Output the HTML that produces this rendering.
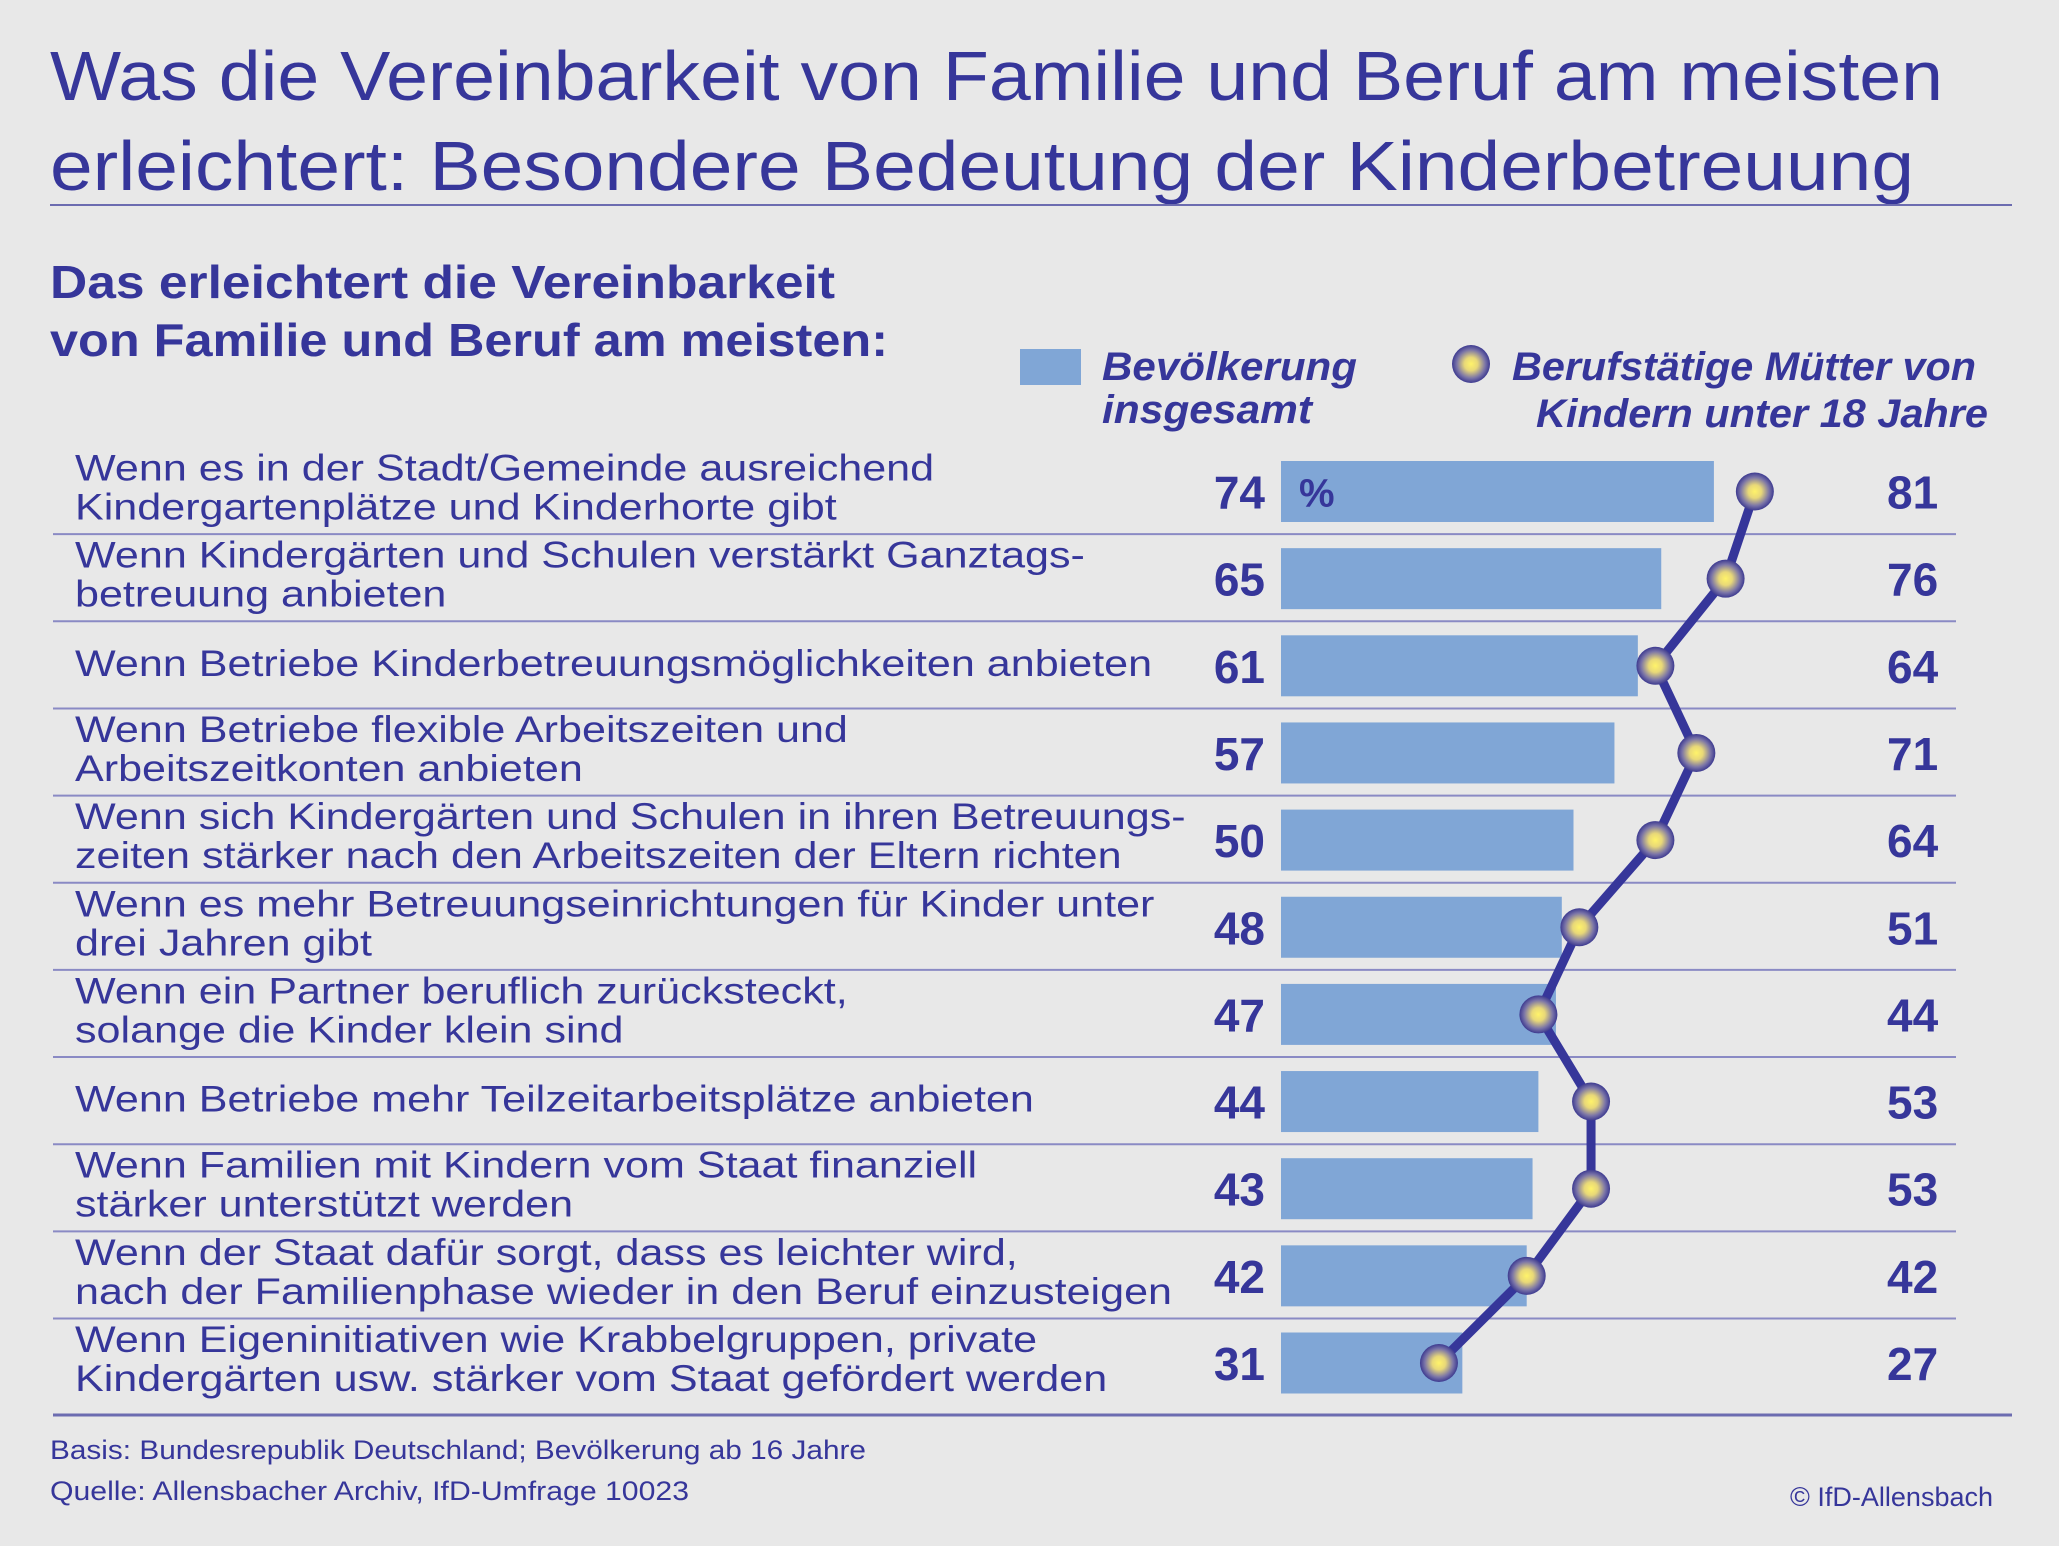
<!DOCTYPE html>
<html><head><meta charset="utf-8"><style>
html,body{margin:0;padding:0;background:#e8e8e8}
svg{display:block}
text{font-family:"Liberation Sans",sans-serif;fill:#36369a}
</style></head><body>
<svg id="chart" width="2059" height="1546" viewBox="0 0 2059 1546" xmlns="http://www.w3.org/2000/svg">
<defs>
<radialGradient id="dotg" cx="50%" cy="50%" r="50%">
<stop offset="0%" stop-color="#fff36a"/>
<stop offset="35%" stop-color="#e8d878"/>
<stop offset="75%" stop-color="#7a74a8"/>
<stop offset="100%" stop-color="#3d3a90"/>
</radialGradient>
</defs>
<rect x="0" y="0" width="2059" height="1546" fill="#e8e8e8"/>
<text x="50" y="100" font-size="70" textLength="1893" lengthAdjust="spacingAndGlyphs">Was die Vereinbarkeit von Familie und Beruf am meisten</text>
<text x="50" y="190" font-size="70" textLength="1864" lengthAdjust="spacingAndGlyphs">erleichtert: Besondere Bedeutung der Kinderbetreuung</text>
<line x1="50" y1="205" x2="2012" y2="205" stroke="#6c6cb0" stroke-width="2"/>
<text x="50" y="298" font-size="46" font-weight="bold" textLength="785" lengthAdjust="spacingAndGlyphs">Das erleichtert die Vereinbarkeit</text>
<text x="50" y="356" font-size="46" font-weight="bold" textLength="838" lengthAdjust="spacingAndGlyphs">von Familie und Beruf am meisten:</text>
<rect x="1020" y="349" width="61" height="36" fill="#80a6d6"/>
<text x="1102" y="380" font-size="40" font-weight="bold" font-style="italic" textLength="255" lengthAdjust="spacingAndGlyphs">Bevölkerung</text>
<text x="1102" y="423" font-size="40" font-weight="bold" font-style="italic" textLength="210" lengthAdjust="spacingAndGlyphs">insgesamt</text>
<circle cx="1471" cy="364" r="19" fill="url(#dotg)"/>
<text x="1512" y="380" font-size="40" font-weight="bold" font-style="italic" textLength="464" lengthAdjust="spacingAndGlyphs">Berufstätige Mütter von</text>
<text x="1536" y="427" font-size="40" font-weight="bold" font-style="italic" textLength="452" lengthAdjust="spacingAndGlyphs">Kindern unter 18 Jahre</text>
<g id="rows"></g>
<line x1="53" y1="1415" x2="2012" y2="1415" stroke="#6c6cb0" stroke-width="3"/>
<text x="50" y="1459" font-size="27" textLength="816" lengthAdjust="spacingAndGlyphs">Basis: Bundesrepublik Deutschland; Bevölkerung ab 16 Jahre</text>
<text x="50" y="1500" font-size="27" textLength="639" lengthAdjust="spacingAndGlyphs">Quelle: Allensbacher Archiv, IfD-Umfrage 10023</text>
<text x="1993" y="1506" font-size="27" text-anchor="end">© IfD-Allensbach</text>
</svg>
<script>
const categories = [
 ["Wenn es in der Stadt/Gemeinde ausreichend","Kindergartenplätze und Kinderhorte gibt"],
 ["Wenn Kindergärten und Schulen verstärkt Ganztags-","betreuung anbieten"],
 ["Wenn Betriebe Kinderbetreuungsmöglichkeiten anbieten"],
 ["Wenn Betriebe flexible Arbeitszeiten und","Arbeitszeitkonten anbieten"],
 ["Wenn sich Kindergärten und Schulen in ihren Betreuungs-","zeiten stärker nach den Arbeitszeiten der Eltern richten"],
 ["Wenn es mehr Betreuungseinrichtungen für Kinder unter","drei Jahren gibt"],
 ["Wenn ein Partner beruflich zurücksteckt,","solange die Kinder klein sind"],
 ["Wenn Betriebe mehr Teilzeitarbeitsplätze anbieten"],
 ["Wenn Familien mit Kindern vom Staat finanziell","stärker unterstützt werden"],
 ["Wenn der Staat dafür sorgt, dass es leichter wird,","nach der Familienphase wieder in den Beruf einzusteigen"],
 ["Wenn Eigeninitiativen wie Krabbelgruppen, private","Kindergärten usw. stärker vom Staat gefördert werden"]
];
const population = [74,65,61,57,50,48,47,44,43,42,31];
const mothers = [81,76,64,71,64,51,44,53,53,42,27];

const NS="http://www.w3.org/2000/svg";
const g=document.getElementById('rows');
const x0=1281, pxPerUnit=5.85;
const rowTop0=461, pitch=87.15, barH=61;
function xScale(v){return x0+v*pxPerUnit;}
function yCenter(i){return rowTop0+i*pitch+barH/2;}
function mk(tag,attrs){const e=document.createElementNS(NS,tag);for(const k in attrs)e.setAttribute(k,attrs[k]);return e;}

for(let i=0;i<categories.length;i++){
  const yc=yCenter(i);
  if(i>0){
    const sep=mk('line',{x1:53,x2:1956,y1:rowTop0+i*pitch-14,y2:rowTop0+i*pitch-14,stroke:'#8a8ac4','stroke-width':2});
    
    
    g.appendChild(sep);
  }
  const lines=categories[i];
  lines.forEach((t,j)=>{
    const base = lines.length===1 ? yc+10 : yc-11+j*39;
    const tx=mk('text',{x:75,y:base,'font-size':37.5});
    tx.textContent=t;
    
    
    g.appendChild(tx);
    const L=tx.getComputedTextLength();
    if(L>0){tx.setAttribute('textLength',(L*1.149).toFixed(1));tx.setAttribute('lengthAdjust','spacingAndGlyphs');}
  });
  const bar=mk('rect',{x:x0,y:yc-barH/2,width:xScale(population[i])-x0,height:barH,fill:'#80a6d6'});
  
  
  g.appendChild(bar);
  const lv=mk('text',{x:1265,y:yc+17,'font-size':46,'font-weight':'bold','text-anchor':'end'});
  lv.textContent=population[i];
  
  
  g.appendChild(lv);
  const rv=mk('text',{x:1887,y:yc+17,'font-size':46,'font-weight':'bold'});
  rv.textContent=mothers[i];
  
  
  g.appendChild(rv);
}
const pct=mk('text',{x:1299,y:yCenter(0)+15,'font-size':40,'font-weight':'bold'});
pct.textContent='%';


g.appendChild(pct);

const pts=mothers.map((v,i)=>xScale(v)+','+yCenter(i)).join(' ');
const pl=mk('polyline',{points:pts,fill:'none',stroke:'#36369a','stroke-width':9,'stroke-linejoin':'round'});


g.appendChild(pl);
mothers.forEach((v,i)=>{
  const c=mk('circle',{cx:xScale(v),cy:yCenter(i),r:19,fill:'url(#dotg)'});
  
  
  g.appendChild(c);
});
</script>
</body></html>
